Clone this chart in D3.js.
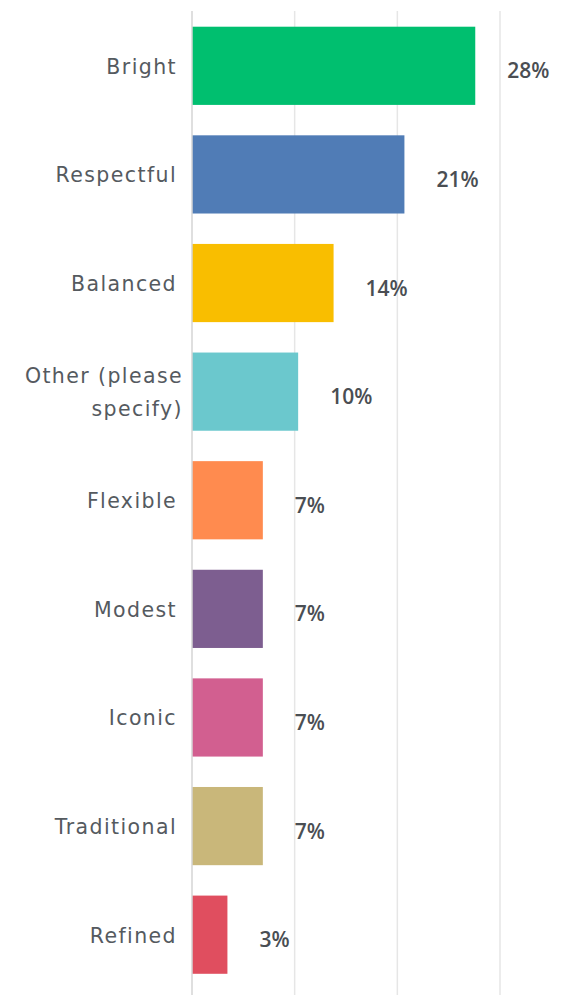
<!DOCTYPE html>
<html>
  <head>
    <title>Word choice</title>
    <script src="https://d3js.org/d3.v7.min.js"></script>
    <style>
      body { margin: 0; background: #fff; }
    </style>
  </head>
  <body>
    <svg width="566" height="995"></svg>

    <script type="text/javascript">
      // answer choices, top to bottom
      var categories = ["Bright", "Respectful", "Balanced", "Other (please specify)",
        "Flexible", "Modest", "Iconic", "Traditional", "Refined"];
      // share of respondents (fraction)
      var values = [0.2759, 0.2069, 0.1379, 0.1034, 0.069, 0.069, 0.069, 0.069, 0.0345];
      var valueLabels = ["28%", "21%", "14%", "10%", "7%", "7%", "7%", "7%", "3%"];
      var colors = ["#00bf6f", "#507cb6", "#f9be00", "#6bc8cd", "#ff8b4f",
        "#7d5e90", "#d25f90", "#c9b77a", "#e04e5f"];
      var gridTicks = [0, 0.1, 0.2, 0.3];

      var svg = d3.select("svg");

      var x = d3.scaleLinear().domain([0, 0.3]).range([192, 500]);
      var y = d3.scaleBand().domain(categories).range([11.5, 989]).paddingInner(0.28).paddingOuter(0.14);

      // gridlines
      svg.append("g")
        .selectAll("line")
        .data(gridTicks.slice(1))
        .enter()
        .append("line")
        .attr("x1", function (d) { return x(d); })
        .attr("x2", function (d) { return x(d); })
        .attr("y1", 11)
        .attr("y2", 995)
        .style("stroke", "#e6e6e6")
        .style("stroke-width", 1.5);

      // bars
      svg.append("g")
        .selectAll("rect")
        .data(categories)
        .enter()
        .append("rect")
        .attr("x", x(0))
        .attr("y", function (d) { return y(d); })
        .attr("width", function (d, i) { return x(values[i]) - x(0); })
        .attr("height", y.bandwidth())
        .style("fill", function (d, i) { return colors[i]; });

      // zero axis line
      svg.append("line")
        .attr("x1", x(0))
        .attr("x2", x(0))
        .attr("y1", 11)
        .attr("y2", 995)
        .style("stroke", "#d4d4d4")
        .style("stroke-width", 1.5);

      // category labels (wrap the long one)
      var labels = svg.append("g")
        .selectAll("text")
        .data(categories)
        .enter()
        .append("text")
        .attr("x", 177)
        .attr("y", function (d) { return y(d) + y.bandwidth() / 2 + 2; })
        .attr("text-anchor", "end")
        .attr("dominant-baseline", "middle")
        .style("font-family", "'DejaVu Sans', sans-serif")
        .style("font-size", "20.5px")
        .style("letter-spacing", "1.4px")
        .style("fill", "#555a5f");

      labels.each(function (d) {
        var t = d3.select(this);
        if (d === "Other (please specify)") {
          t.append("tspan").attr("x", 183).attr("dy", "-0.8em").text("Other (please");
          t.append("tspan").attr("x", 183).attr("dy", "1.6em").text("specify)");
        } else {
          t.text(d);
        }
      });

      // value labels
      svg.append("g")
        .selectAll("text")
        .data(categories)
        .enter()
        .append("text")
        .attr("x", function (d, i) { return x(values[i]) + 32; })
        .attr("y", function (d) { return y(d) + y.bandwidth() / 2 + 7; })
        .attr("dominant-baseline", "middle")
        .style("font-family", "'Open Sans', sans-serif")
        .style("font-size", "21px")
        .style("font-weight", "600")
        .style("fill", "#4a4e53")
        .text(function (d, i) { return valueLabels[i]; });
    </script>
  </body>
</html>
